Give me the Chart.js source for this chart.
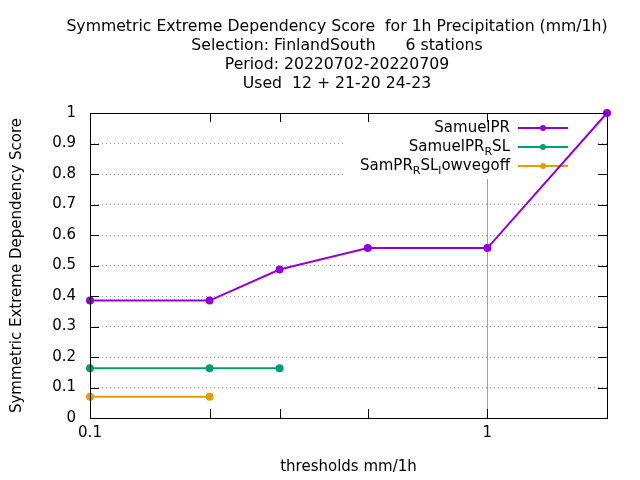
<!DOCTYPE html>
<html><head><meta charset="utf-8">
<script src="https://cdn.jsdelivr.net/npm/chart.js@4"></script>
<style>html,body{margin:0;background:#fff}#c{display:block}</style>
</head><body>
<canvas id="c" width="640" height="480"></canvas>
<script>
const titleLines = ["Symmetric Extreme Dependency Score  for 1h Precipitation (mm/1h)",
  "Selection: FinlandSouth      6 stations", "Period: 20220702-20220709", "Used  12 + 21-20 24-23"];
const xTicks = [0.1, 0.2, 0.3, 0.5, 1, 2];
const xLabels = {0.1: "0.1", 1: "1"};
const samuelX = [0.1, 0.2, 0.3, 0.5, 1, 2];
const samuelY = [0.385, 0.385, 0.487, 0.557, 0.557, 1.0];
const rslX = [0.1, 0.2, 0.3];
const rslY = [0.163, 0.163, 0.163];
const lowX = [0.1, 0.2];
const lowY = [0.07, 0.07];
const colors = ["#9400d3", "#009e73", "#e69f00"];
const FONT = "'DejaVu Sans', sans-serif";

const pts = (xs, ys) => xs.map((x, i) => ({x, y: ys[i]}));
const ds = (data, c) => ({data, borderColor: c, backgroundColor: c, borderWidth: 2,
  pointRadius: 3, pointStyle: 'circle', tension: 0});

const deco = {
  id: 'deco',
  beforeDatasetsDraw(chart) {
    const g = chart.ctx;
    g.save();
    g.fillStyle = '#fff'; g.fillRect(345, 117, 252, 62);
    const items = [["SamuelPR"], ["SamuelPR", "R", "SL"], ["SamPR", "R", "SL", "l", "owvegoff"]];
    items.forEach((parts, i) => {
      const y = 128 + i * 19;
      g.textBaseline = 'middle'; g.textAlign = 'left'; g.fillStyle = '#000';
      let w = 0;
      parts.forEach((p, j) => { g.font = (j % 2 ? '11px ' : '15px ') + FONT; w += g.measureText(p).width; });
      let x = 510 - w;
      parts.forEach((p, j) => { g.font = (j % 2 ? '11px ' : '15px ') + FONT;
        g.fillText(p, x, y + (j % 2 ? 5 : 0)); x += g.measureText(p).width; });
      g.strokeStyle = colors[i]; g.fillStyle = colors[i]; g.lineWidth = 2;
      g.beginPath(); g.moveTo(518, y); g.lineTo(568, y); g.stroke();
      g.beginPath(); g.arc(543, y, 3, 0, Math.PI * 2); g.fill();
    });
    g.restore();
  },
  afterDraw(chart) {
    const g = chart.ctx, a = chart.chartArea, xs = chart.scales.x, ys = chart.scales.y;
    g.save();
    g.fillStyle = '#000'; g.font = '15.7px ' + FONT; g.textAlign = 'center'; g.textBaseline = 'middle';
    titleLines.forEach((t, i) => g.fillText(t, 337, 27 + i * 19));
    g.strokeStyle = '#000'; g.lineWidth = 1;
    g.beginPath();
    xTicks.forEach(v => { const p = Math.round(xs.getPixelForValue(v)) + 0.5;
      g.moveTo(p, a.bottom); g.lineTo(p, a.bottom - 9); g.moveTo(p, a.top); g.lineTo(p, a.top + 9); });
    for (let v = 0; v <= 1.0001; v += 0.1) { const p = Math.round(ys.getPixelForValue(v)) + 0.5;
      g.moveTo(a.left, p); g.lineTo(a.left + 9, p); g.moveTo(a.right, p); g.lineTo(a.right - 9, p); }
    g.stroke();
    g.strokeRect(a.left + 0.5, a.top + 0.5, a.right - a.left, a.bottom - a.top);
    g.restore();
  }
};

new Chart(document.getElementById('c'), {
  type: 'line',
  data: {datasets: [ds(pts(samuelX, samuelY), colors[0]), ds(pts(rslX, rslY), colors[1]), ds(pts(lowX, lowY), colors[2])]},
  options: {
    responsive: false, animation: false, clip: false,
    layout: {padding: {top: 113, right: 33, left: 4, bottom: 0}},
    plugins: {legend: {display: false}, title: {display: false}, tooltip: {enabled: false}},
    scales: {
      x: {type: 'logarithmic', min: 0.1, max: 2,
        afterBuildTicks: s => { s.ticks = xTicks.map(v => ({value: v})); },
        afterFit: s => { s.height = 62; },
        border: {display: false},
        grid: {drawTicks: false, lineWidth: 1, color: c => c.tick && c.tick.value === 1 ? '#a0a0a0' : 'rgba(0,0,0,0)',
          tickBorderDash: [1, 3]},
        ticks: {autoSkip: false, maxRotation: 0, padding: 6, color: '#000', font: {family: FONT, size: 15},
          callback: v => xLabels[v] || ''},
        title: {display: true, text: 'thresholds mm/1h', color: '#000', font: {family: FONT, size: 15}, padding: {top: 8}}
      },
      y: {min: 0, max: 1,
        afterFit: s => { s.width = 86; },
        border: {display: false, dash: [1, 3]},
        grid: {drawTicks: false, color: '#a0a0a0', lineWidth: 1},
        ticks: {stepSize: 0.1, padding: 14, color: '#000', font: {family: FONT, size: 15},
          callback: v => String(Math.round(v * 10) / 10)},
        title: {display: true, text: 'Symmetric Extreme Dependency Score', color: '#000', font: {family: FONT, size: 15}, padding: {bottom: 4}}
      }
    }
  },
  plugins: [deco]
});
</script>
</body></html>
